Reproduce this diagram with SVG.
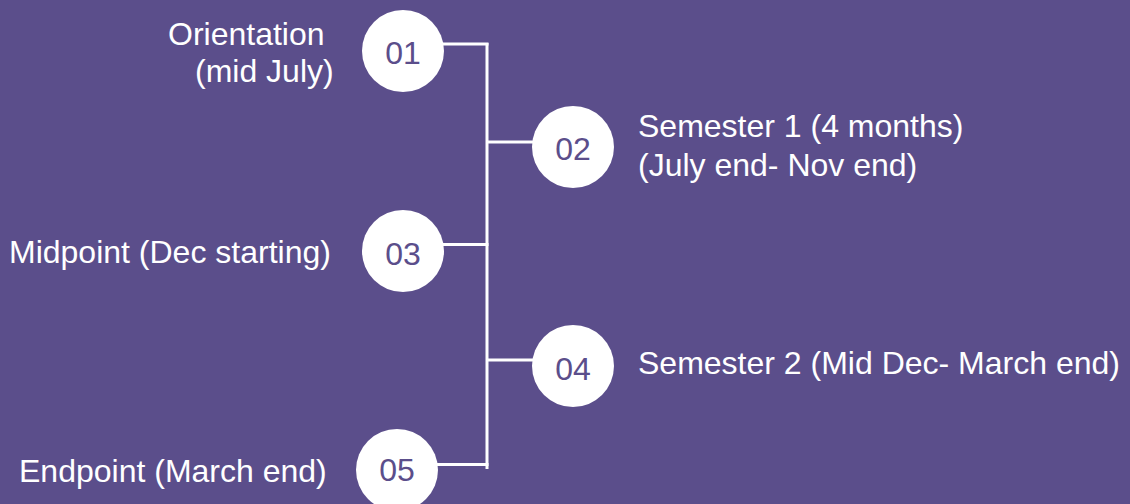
<svg xmlns="http://www.w3.org/2000/svg" width="1130" height="504" viewBox="0 0 1130 504">
<style>
.lbl{font-family:"Liberation Sans",Arial,sans-serif;font-size:32px;fill:#ffffff}
.num{font-family:"Liberation Sans",Arial,sans-serif;font-size:32px;fill:#5b4e8b;text-anchor:middle}
.dot{fill:#ffffff}
.ln{stroke:#ffffff;stroke-width:3;fill:none}
</style>
<rect width="1130" height="504" fill="#5b4e8b"/>
<g id="connectors">
<line class="ln" x1="487" y1="43" x2="487" y2="469"/>
<line class="ln" x1="440" y1="44" x2="488.5" y2="44"/>
<line class="ln" x1="487" y1="142" x2="540" y2="142"/>
<line class="ln" x1="440" y1="244.5" x2="488.5" y2="244.5"/>
<line class="ln" x1="487" y1="360" x2="540" y2="360"/>
<line class="ln" x1="432" y1="464.5" x2="488.5" y2="464.5"/>
</g>
<g id="n01">
<circle class="dot" cx="403" cy="51" r="41"/>
<text class="num" x="403" y="64">01</text>
<text class="lbl" x="168" y="45">Orientation</text>
<text class="lbl" x="195" y="82">(mid July)</text>
</g>
<g id="n02">
<circle class="dot" cx="573" cy="147" r="41"/>
<text class="num" x="573" y="160">02</text>
<text class="lbl" x="638" y="137">Semester 1 (4 months)</text>
<text class="lbl" x="638" y="176">(July end- Nov end)</text>
</g>
<g id="n03">
<circle class="dot" cx="403" cy="251" r="41"/>
<text class="num" x="403" y="265">03</text>
<text class="lbl" x="9" y="263">Midpoint (Dec starting)</text>
</g>
<g id="n04">
<circle class="dot" cx="573" cy="366" r="41"/>
<text class="num" x="573" y="380">04</text>
<text class="lbl" x="638" y="374">Semester 2 (Mid Dec- March end)</text>
</g>
<g id="n05">
<circle class="dot" cx="397" cy="470" r="41"/>
<text class="num" x="397" y="481">05</text>
<text class="lbl" x="19" y="482">Endpoint (March end)</text>
</g>
</svg>
